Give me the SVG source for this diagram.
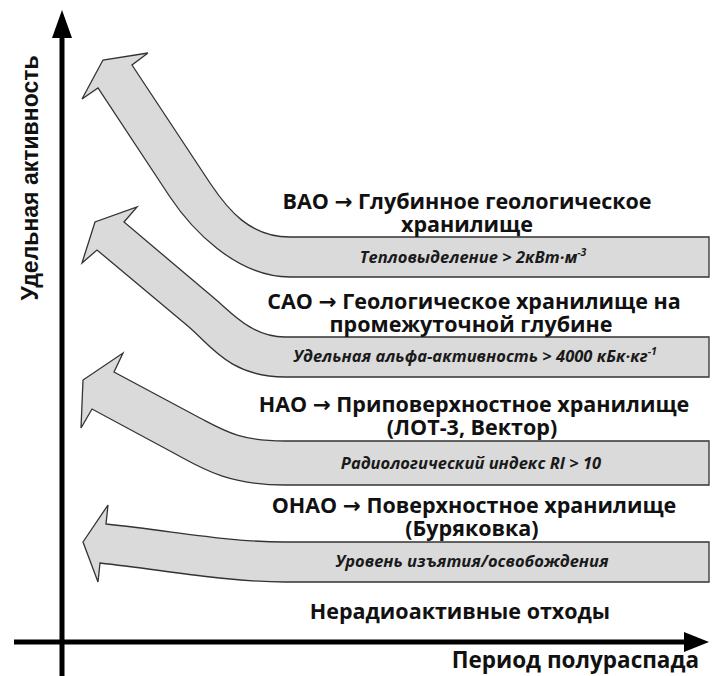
<svg xmlns="http://www.w3.org/2000/svg" width="712" height="676" viewBox="0 0 712 676">
<style>
.arrow{fill:#dadada;stroke:#333;stroke-width:1.3;stroke-linejoin:miter}
.title{font-family:"Open Sans","Noto Sans",sans-serif;font-weight:700;font-size:21.5px;fill:#111;text-anchor:middle}
.arr{font-family:"DejaVu Sans",sans-serif;font-weight:700}
.crit{font-family:"Open Sans","Noto Sans",sans-serif;font-weight:700;font-style:italic;font-size:16.5px;fill:#1a1a1a;text-anchor:middle}
.sup{font-size:10.5px}
.axislbl{font-family:"Open Sans","Noto Sans",sans-serif;font-weight:700;font-size:22.5px;fill:#111}
.ylbl{font-family:"Liberation Sans",Arial,sans-serif;font-weight:700;font-size:23px;fill:#111;text-anchor:middle}
.axis{stroke:#000;stroke-width:5;fill:none}
</style>
<rect width="712" height="676" fill="#fff"/>
<g id="axes">
  <line class="axis" x1="62" y1="30" x2="62" y2="676"/>
  <polygon points="62,10 52,38 72,38" fill="#000"/>
  <line class="axis" x1="14" y1="642" x2="688" y2="642"/>
  <polygon points="709,642 684,632 684,652" fill="#000"/>
  <text class="ylbl" transform="translate(38,178) rotate(-90)">Удельная активность</text>
  <text class="axislbl" x="699" y="668" text-anchor="end">Период полураспада</text>
</g>
<g id="vao">
  <path class="arrow" d="M709,237 L290,237 C250,237 228,210 210,183 L132,65 L148,53 L103,60 L82,99 L98,88 L170,197 C190,227 235,277 290,277 L709,277 Z"/>
  <text class="title" x="467" y="209">ВАО <tspan class="arr">→</tspan> Глубинное геологическое</text>
  <text class="title" x="467" y="232">хранилище</text>
  <text class="crit" x="473" y="263">Тепловыделение &gt; 2кВт·м<tspan class="sup" dy="-7">-3</tspan></text>
</g>
<g id="sao">
  <path class="arrow" d="M709,337 L285,337 C252,337 232,313 214,298 L124,222 L137,207 L95,222 L82,263 L97,250 L189,327 C210,345 230,377 285,377 L709,377 Z"/>
  <text class="title" x="474" y="309">САО <tspan class="arr">→</tspan> Геологическое хранилище на</text>
  <text class="title" x="471" y="332">промежуточной глубине</text>
  <text class="crit" x="475" y="362">Удельная альфа-активность &gt; 4000 кБк·кг<tspan class="sup" dy="-7">-1</tspan></text>
</g>
<g id="nao">
  <path class="arrow" d="M709,441 L285,441 C240,441 225,431 200,418 L114,372 L123,353 L83,380 L81,428 L92,409 L170,451 C200,467 225,485 285,485 L709,485 Z"/>
  <text class="title" x="474" y="412">НАО <tspan class="arr">→</tspan> Приповерхностное хранилище</text>
  <text class="title" x="472" y="435">(ЛОТ-3, Вектор)</text>
  <text class="crit" x="471" y="469">Радиологический индекс RI &gt; 10</text>
</g>
<g id="onao">
  <path class="arrow" d="M709,542 L285,542 C230,542 180,532 106,524 L108,505 L83,542 L98,582 L100,563 C170,571 230,582 285,582 L709,582 Z"/>
  <text class="title" x="474" y="513">ОНАО <tspan class="arr">→</tspan> Поверхностное хранилище</text>
  <text class="title" x="472" y="536">(Буряковка)</text>
  <text class="crit" x="472" y="567">Уровень изъятия/освобождения</text>
</g>
<g id="nonrad">
  <text class="title" x="460" y="619">Нерадиоактивные отходы</text>
</g>
</svg>
